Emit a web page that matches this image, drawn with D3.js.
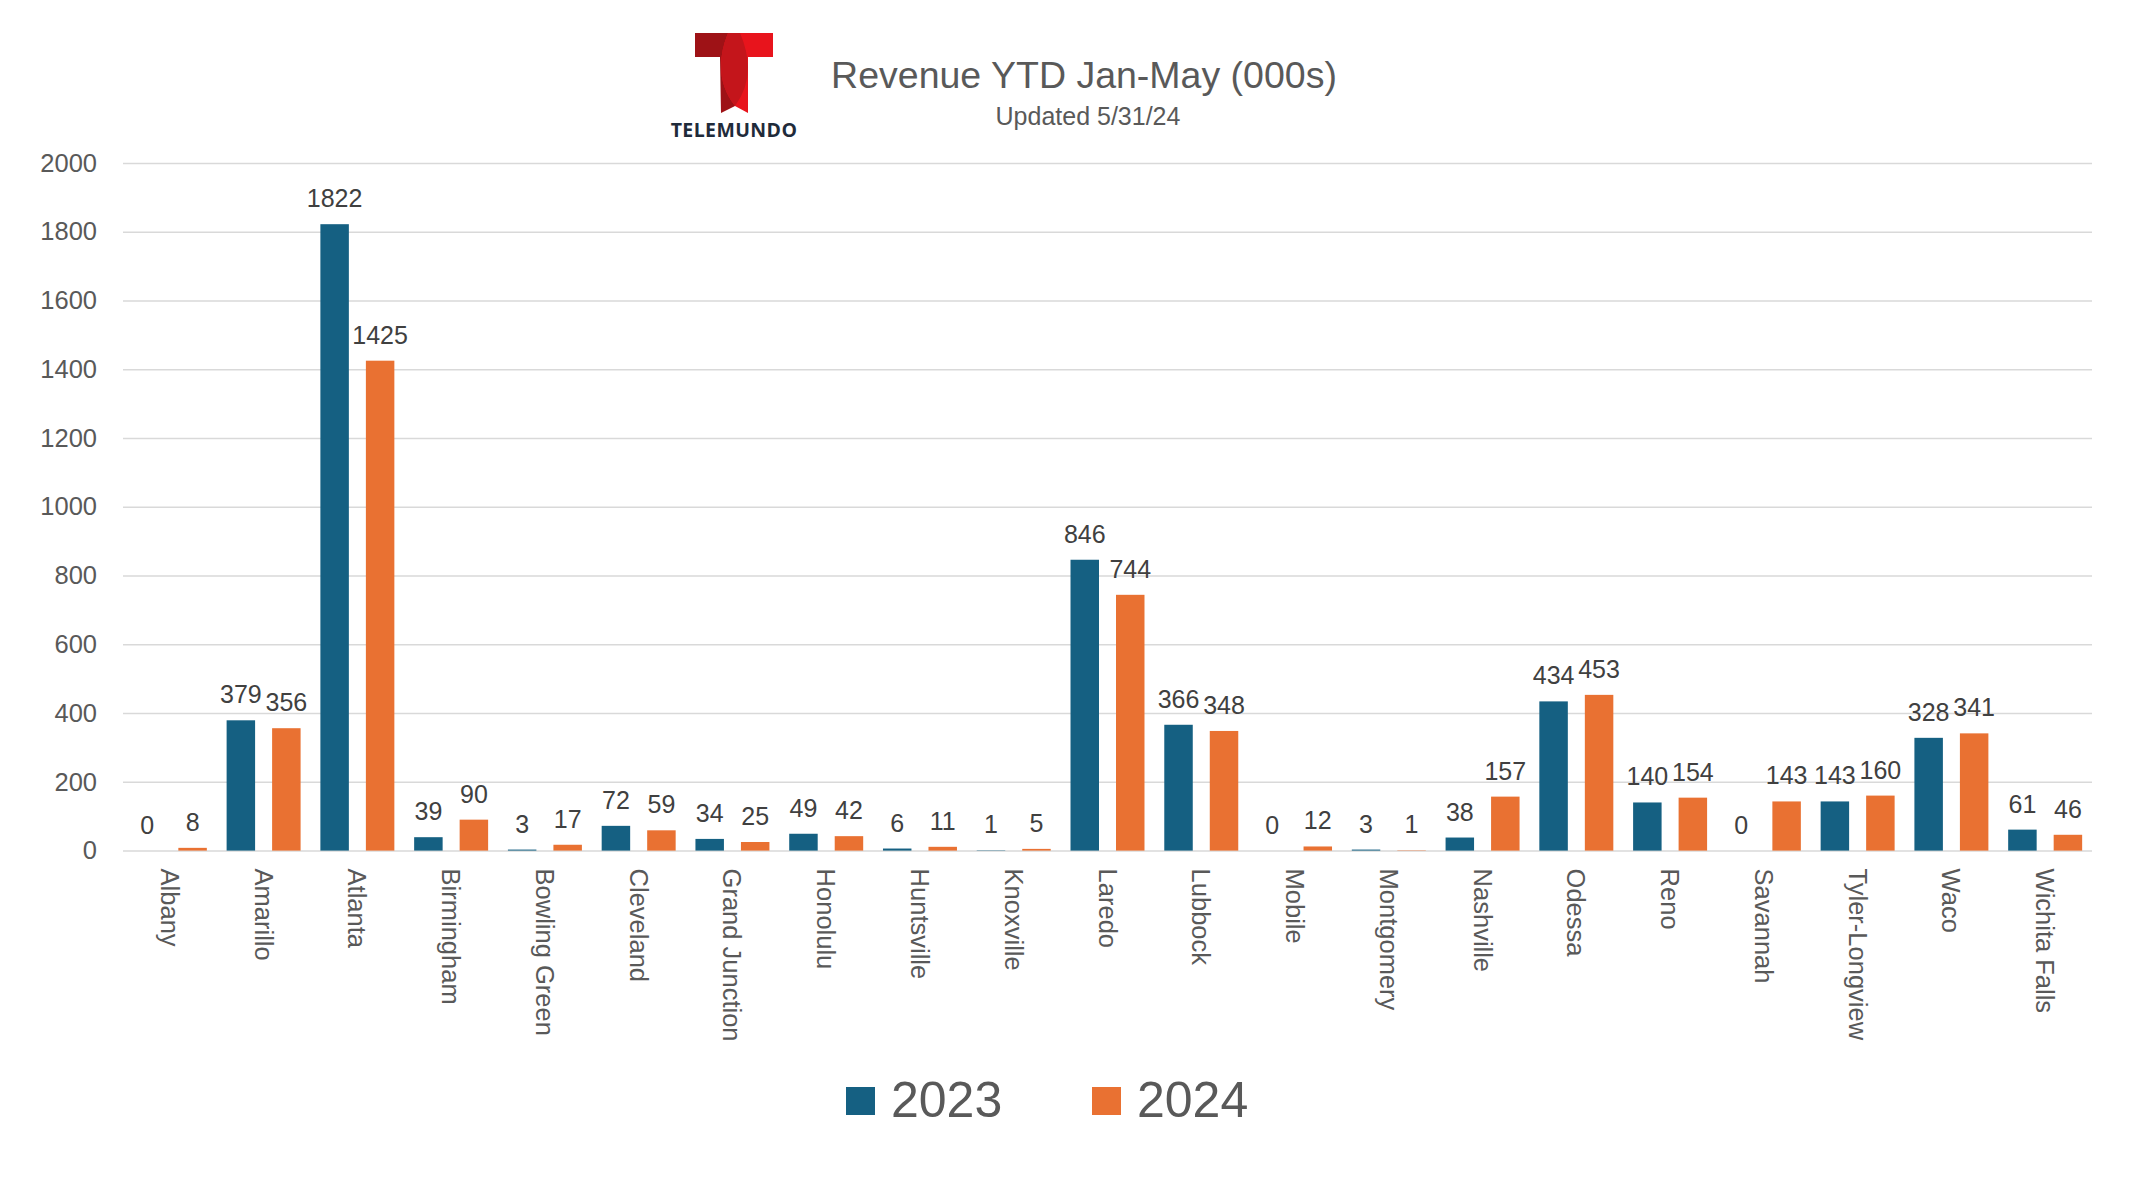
<!DOCTYPE html>
<html>
<head>
<meta charset="utf-8">
<script src="https://cdn.jsdelivr.net/npm/d3@7"></script>
<style>
  html, body { margin: 0; padding: 0; background: #ffffff; }
  svg { display: block; }
  text { font-family: "Liberation Sans", Arial, sans-serif; }
</style>
</head>
<body>
<svg id="chart" width="2140" height="1204"></svg>
<script>
const categories = ["Albany","Amarillo","Atlanta","Birmingham","Bowling Green","Cleveland","Grand Junction","Honolulu","Huntsville","Knoxville","Laredo","Lubbock","Mobile","Montgomery","Nashville","Odessa","Reno","Savannah","Tyler-Longview","Waco","Wichita Falls"];
const values2023 = [0,379,1822,39,3,72,34,49,6,1,846,366,0,3,38,434,140,0,143,328,61];
const values2024 = [8,356,1425,90,17,59,25,42,11,5,744,348,12,1,157,453,154,143,160,341,46];
const seriesNames = ["2023","2024"];
const seriesColors = ["#156082","#E97132"];
const yTicks = [0,200,400,600,800,1000,1200,1400,1600,1800,2000];
const titleText = "Revenue YTD Jan-May (000s)";
const subtitleText = "Updated 5/31/24";
const logoText = "TELEMUNDO";

const svg = d3.select("#chart");
const plotLeft = 123, plotRight = 2092, plotTop = 163, plotBottom = 850.6;

const x0 = d3.scaleBand().domain(categories).range([plotLeft, plotRight]).paddingInner(0.211).paddingOuter(0.105);
const x1 = d3.scaleBand().domain(seriesNames).range([0, x0.bandwidth()]).paddingInner(0.374).paddingOuter(0);
const y = d3.scaleLinear().domain([0, 2000]).range([plotBottom, plotTop]);
const color = d3.scaleOrdinal().domain(seriesNames).range(seriesColors);

// Grid + y axis
const yAxis = svg.append("g").attr("transform", `translate(${plotLeft},0)`)
  .call(d3.axisLeft(y).tickValues(yTicks).tickSize(-(plotRight - plotLeft)).tickPadding(26).tickFormat(d3.format("d")));
yAxis.select(".domain").remove();
yAxis.selectAll(".tick line").attr("stroke", "#d9d9d9").attr("stroke-width", 1.5);
yAxis.selectAll(".tick text").attr("fill", "#595959").style("font-size", "25.5px")
  .style("font-family", '"Liberation Sans", Arial, sans-serif');

// Bars
const rows = categories.map((c, i) => ({ cat: c, vals: [values2023[i], values2024[i]] }));
const groups = svg.append("g").selectAll("g").data(rows).join("g")
  .attr("transform", d => `translate(${x0(d.cat)},0)`);

groups.selectAll("rect").data(d => d.vals.map((v, j) => ({ key: seriesNames[j], v })))
  .join("rect")
  .attr("x", d => x1(d.key))
  .attr("width", x1.bandwidth())
  .attr("y", d => y(d.v))
  .attr("height", d => y(0) - y(d.v))
  .attr("fill", d => color(d.key));

groups.selectAll("text.lbl").data(d => d.vals.map((v, j) => ({ key: seriesNames[j], v })))
  .join("text")
  .attr("class", "lbl")
  .attr("x", d => x1(d.key) + x1.bandwidth() / 2)
  .attr("y", d => y(d.v) - 17)
  .attr("text-anchor", "middle")
  .attr("fill", "#404040")
  .style("font-size", "25px")
  .text(d => d.v);

// X axis
const xAxis = svg.append("g").attr("transform", `translate(0,${plotBottom})`)
  .call(d3.axisBottom(x0).tickSize(0));
xAxis.select(".domain").remove();
xAxis.selectAll(".tick text")
  .attr("transform", "rotate(90)")
  .attr("x", 18).attr("y", 0).attr("dy", "0.35em")
  .attr("text-anchor", "start")
  .attr("fill", "#595959")
  .style("font-size", "25.5px")
  .style("font-family", '"Liberation Sans", Arial, sans-serif');

// Title
svg.append("text").attr("x", 1084).attr("y", 88).attr("text-anchor", "middle")
  .attr("fill", "#595959").style("font-size", "37.5px").text(titleText);
svg.append("text").attr("x", 1088).attr("y", 125).attr("text-anchor", "middle")
  .attr("fill", "#595959").style("font-size", "25px").text(subtitleText);

// Logo
const logo = svg.append("g");
const leftPath = "M695,33 L740,33 Q758,75 735,106 L721,113 L720,57 L695,57 Z";
const rightPath = "M773,33 L728,33 Q711,75 735,106 L748,113 L748,57 L773,57 Z";
logo.append("path").attr("d", leftPath).attr("fill", "#9e1216");
logo.append("path").attr("d", rightPath).attr("fill", "#e8141c");
const defs = svg.append("defs");
defs.append("clipPath").attr("id", "clipL").append("path").attr("d", leftPath);
logo.append("path").attr("d", rightPath).attr("fill", "#c4151b").attr("clip-path", "url(#clipL)");
logo.append("text").attr("x", 734).attr("y", 137).attr("text-anchor", "middle")
  .attr("fill", "#1f2b3a").style("font-size", "19.5px").style("font-weight", "bold")
  .style("letter-spacing", "0.4px")
  .style("font-family", '"Open Sans", "Liberation Sans", sans-serif').text(logoText);

// Legend
const legendItems = [{ name: seriesNames[0], sx: 846, tx: 891 }, { name: seriesNames[1], sx: 1092, tx: 1137 }];
const lg = svg.append("g");
lg.selectAll("rect").data(legendItems).join("rect")
  .attr("x", d => d.sx).attr("y", 1087).attr("width", 29).attr("height", 28)
  .attr("fill", d => color(d.name));
lg.selectAll("text").data(legendItems).join("text")
  .attr("x", d => d.tx).attr("y", 1117)
  .attr("fill", "#595959").style("font-size", "50px").text(d => d.name);
</script>
</body>
</html>
